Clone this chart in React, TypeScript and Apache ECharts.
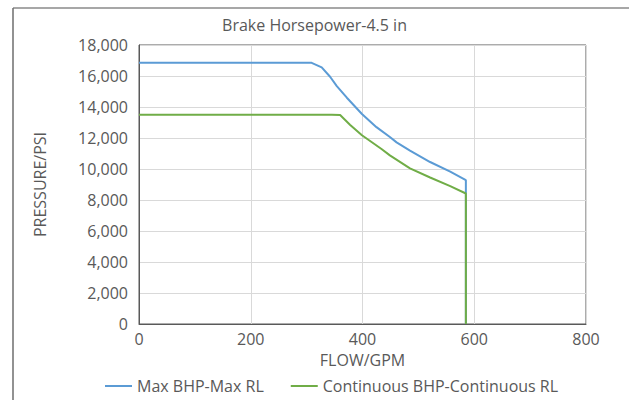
import React, { useEffect, useRef } from "react";
import * as echarts from "echarts";

const titleText = "Brake Horsepower-4.5 in";
const xName = "FLOW/GPM";
const yName = "PRESSURE/PSI";
const seriesNames = ["Max BHP-Max RL", "Continuous BHP-Continuous RL"];

const maxFlow = [0, 309, 327, 342, 354, 372, 399, 425, 449, 461, 485, 521, 557, 585, 585];
const maxPressure = [16850, 16850, 16560, 15950, 15350, 14600, 13550, 12700, 12060, 11720, 11190, 10450, 9830, 9280, 0];

const contFlow = [0, 345, 360, 378, 399, 434, 449, 485, 521, 557, 585, 585];
const contPressure = [13500, 13500, 13480, 12840, 12180, 11290, 10880, 10045, 9450, 8900, 8420, 0];

const FONT = "'Open Sans', sans-serif";
const TEXT = "#595959";

export default function App() {
  const ref = useRef<HTMLDivElement>(null);
  useEffect(() => {
    if (!ref.current) return;
    const chart = echarts.init(ref.current, undefined, { renderer: "svg" });
    const pair = (xs: number[], ys: number[]) => xs.map((x, i) => [x, ys[i]]);
    chart.setOption({
      animation: false,
      backgroundColor: "#ffffff",
      textStyle: { fontFamily: FONT },
      title: {
        text: titleText,
        left: "center",
        top: 12,
        textStyle: { fontFamily: FONT, fontSize: 16, fontWeight: "normal", color: TEXT },
      },
      graphic: [
        { type: "line", shape: { x1: 13, y1: 8, x2: 629, y2: 8 }, style: { stroke: "#8a8a8a", lineWidth: 1.5 } },
        { type: "line", shape: { x1: 13, y1: 8, x2: 13, y2: 400 }, style: { stroke: "#6e6e6e", lineWidth: 1.5 } },
      ],
      grid: {
        left: 139,
        right: 43,
        top: 45,
        bottom: 76,
        show: true,
        borderColor: "#595959",
        borderWidth: 1,
      },
      legend: {
        left: 100,
        top: 373,
        itemWidth: 27,
        itemHeight: 2,
        itemGap: 27,
        icon: "rect",
        textStyle: { fontFamily: FONT, fontSize: 16, color: TEXT },
        data: seriesNames,
      },
      xAxis: {
        type: "value",
        min: 0,
        max: 800,
        interval: 200,
        name: xName,
        nameLocation: "middle",
        nameGap: 24,
        nameTextStyle: { fontFamily: FONT, fontSize: 16, color: TEXT },
        axisLine: { show: true, lineStyle: { color: "#595959", width: 1 } },
        axisTick: { show: false },
        axisLabel: { fontFamily: FONT, fontSize: 16, color: TEXT, margin: 7 },
        splitLine: { show: true, lineStyle: { color: "#d9d9d9", width: 1 } },
      },
      yAxis: {
        type: "value",
        min: 0,
        max: 18000,
        interval: 2000,
        name: yName,
        nameLocation: "middle",
        nameGap: 91,
        nameTextStyle: { fontFamily: FONT, fontSize: 16, color: TEXT },
        axisLine: { show: true, lineStyle: { color: "#595959", width: 1 } },
        axisTick: { show: false },
        axisLabel: {
          fontFamily: FONT,
          fontSize: 16,
          color: TEXT,
          margin: 11,
          formatter: (v: number) => v.toLocaleString("en-US"),
        },
        splitLine: { show: true, lineStyle: { color: "#d9d9d9", width: 1 } },
      },
      series: [
        {
          name: seriesNames[0],
          type: "line",
          data: pair(maxFlow, maxPressure),
          showSymbol: false,
          symbol: "none",
          lineStyle: { color: "#5B9BD5", width: 2 },
          itemStyle: { color: "#5B9BD5" },
        },
        {
          name: seriesNames[1],
          type: "line",
          data: pair(contFlow, contPressure),
          showSymbol: false,
          symbol: "none",
          lineStyle: { color: "#70AD47", width: 2 },
          itemStyle: { color: "#70AD47" },
        },
      ],
    });
    return () => chart.dispose();
  }, []);
  return <div ref={ref} style={{ width: 629, height: 400, position: "absolute", left: 0, top: 0 }} />;
}
